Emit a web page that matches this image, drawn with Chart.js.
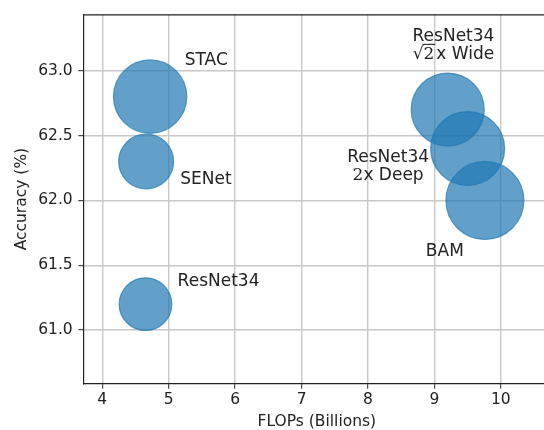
<!DOCTYPE html>
<html><head><meta charset="utf-8">
<script src="https://cdn.jsdelivr.net/npm/chart.js@4.4.1/dist/chart.umd.min.js"></script>
<style>html,body{margin:0;padding:0;overflow:hidden;background:#fff;width:544px;height:430px}
#wrap{width:560px;height:430px}</style></head>
<body><div id="wrap"><canvas id="c" width="560" height="430"></canvas></div>
<script>
// ---- data ----
const models = ["ResNet34", "SENet", "STAC", "BAM", "ResNet34 2x Deep", "ResNet34 √2x Wide"];
const flops = [4.65, 4.66, 4.72, 9.76, 9.50, 9.20];
const accuracy = [61.2, 62.3, 62.8, 62.0, 62.4, 62.7];
const paramsM = [21.8, 23.8, 42.4, 47.9, 43.1, 42.0];
const labelLines = [["ResNet34"], ["SENet"], ["STAC"], ["BAM"], ["ResNet34", "2x Deep"], ["ResNet34", "√2x Wide"]];
const labelX = [5.75, 5.56, 5.565, 9.157, 8.303, 9.287];
const labelY = [61.374, 62.158, 63.078, 61.609, 62.26, 63.194];
const xTicks = [4, 5, 6, 7, 8, 9, 10];
const yTicks = [61.0, 61.5, 62.0, 62.5, 63.0];
const xRange = [3.72, 10.74];
const yRange = [60.59, 63.43];
const xTitle = "FLOPs (Billions)";
const yTitle = "Accuracy (%)";

// ---- styling ----
const TXT = '#222';
const SANS = '17px "DejaVu Sans"';
const SERIF = '17px "DejaVu Serif"';
const radius = p => 5.633 * Math.sqrt(p);

function segments(ln) {
  const m = ln.match(/^(√?)(2)(x.*)$/);
  if (!m) return [{t: ln, font: SANS}];
  const s = [];
  if (m[1]) s.push({t: '√', font: SERIF, root: true});
  s.push({t: '2', font: SERIF, over: !!m[1], gapAfter: m[1] ? 2 : 0});
  s.push({t: m[3], font: SANS});
  return s;
}
function drawRich(ctx, ln, cx, cy) {
  const segs = segments(ln);
  let w = 0;
  segs.forEach(s => { ctx.font = s.font; s.w = ctx.measureText(s.t).width; w += s.w + (s.gapAfter || 0); });
  let xp = cx - w / 2;
  let rootEnd = null;
  segs.forEach(s => {
    ctx.font = s.font;
    ctx.textAlign = 'left';
    ctx.fillText(s.t, xp, cy);
    if (s.root) rootEnd = xp + s.w - 1;
    if (s.over && rootEnd !== null) {
      ctx.save();
      ctx.strokeStyle = TXT; ctx.lineWidth = 1.1;
      ctx.beginPath();
      const yy = cy - 10.5;
      ctx.moveTo(rootEnd, yy); ctx.lineTo(xp + s.w + 1, yy); ctx.stroke();
      ctx.restore();
    }
    xp += s.w + (s.gapAfter || 0);
  });
}
const annot = {
  id: 'annot',
  afterDatasetsDraw(chart) {
    const {ctx, scales: {x, y}} = chart;
    ctx.save();
    ctx.fillStyle = TXT;
    ctx.textBaseline = 'middle';
    const lh = 18.7;
    labelLines.forEach((lines, i) => {
      const cx = x.getPixelForValue(labelX[i]);
      const cy = y.getPixelForValue(labelY[i]);
      const y0 = cy - (lines.length - 1) * lh / 2;
      lines.forEach((ln, j) => drawRich(ctx, ln, cx, y0 + j * lh));
    });
    ctx.restore();
  }
};
const topSpine = {
  id: 'topSpine',
  afterDraw(chart) {
    const {ctx, chartArea: a} = chart;
    ctx.save();
    ctx.strokeStyle = TXT; ctx.lineWidth = 1.2;
    ctx.beginPath(); ctx.moveTo(a.left, a.top); ctx.lineTo(a.right, a.top);
    ctx.moveTo(a.right, a.top); ctx.lineTo(a.right, a.bottom); ctx.stroke();
    ctx.restore();
  }
};

new Chart(document.getElementById('c'), {
  type: 'bubble',
  data: {
    datasets: [{
      label: 'models',
      data: flops.map((f, i) => ({x: f, y: accuracy[i], r: radius(paramsM[i])})),
      backgroundColor: 'rgba(31,119,180,0.7)',
      borderColor: 'rgba(31,119,180,0.7)',
      borderWidth: 1.2, hoverBorderWidth: 1.2
    }]
  },
  options: {
    responsive: false, animation: false, events: [],
    layout: {autoPadding: false, padding: {left: 0, top: 10.7, right: 10, bottom: 0}},
    plugins: {legend: {display: false}, tooltip: {enabled: false}},
    scales: {
      x: {
        type: 'linear', min: xRange[0], max: xRange[1],
        afterFit(s) { s.height = 46.7; },
        afterBuildTicks(s) { s.ticks = xTicks.map(v => ({value: v})); },
        ticks: {color: TXT, font: {family: 'DejaVu Sans', size: 15.5}, padding: 2.3, maxRotation: 0, autoSkip: false, callback: v => String(v)},
        grid: {color: '#c8c8c8', lineWidth: 1.4, tickLength: 5.4, tickColor: TXT, tickWidth: 1},
        border: {color: TXT, width: 1.2},
        title: {display: true, text: xTitle, color: TXT, font: {family: 'DejaVu Sans', size: 15.5, lineHeight: 1}, padding: {top: 0, bottom: 0.75}}
      },
      y: {
        type: 'linear', min: yRange[0], max: yRange[1],
        afterFit(s) { s.width = 83.7; },
        afterBuildTicks(s) { s.ticks = yTicks.map(v => ({value: v})); },
        ticks: {color: TXT, font: {family: 'DejaVu Sans', size: 15.5}, padding: 5.6, autoSkip: false, callback: v => Number(v).toFixed(1)},
        grid: {color: '#c8c8c8', lineWidth: 1.4, tickLength: 5.4, tickColor: TXT, tickWidth: 1},
        border: {color: TXT, width: 1.2},
        title: {display: true, text: yTitle, color: TXT, font: {family: 'DejaVu Sans', size: 15.5, lineHeight: 1}, padding: {top: 13.8, bottom: 0}}
      }
    }
  },
  plugins: [annot, topSpine]
});
</script>
</body></html>
